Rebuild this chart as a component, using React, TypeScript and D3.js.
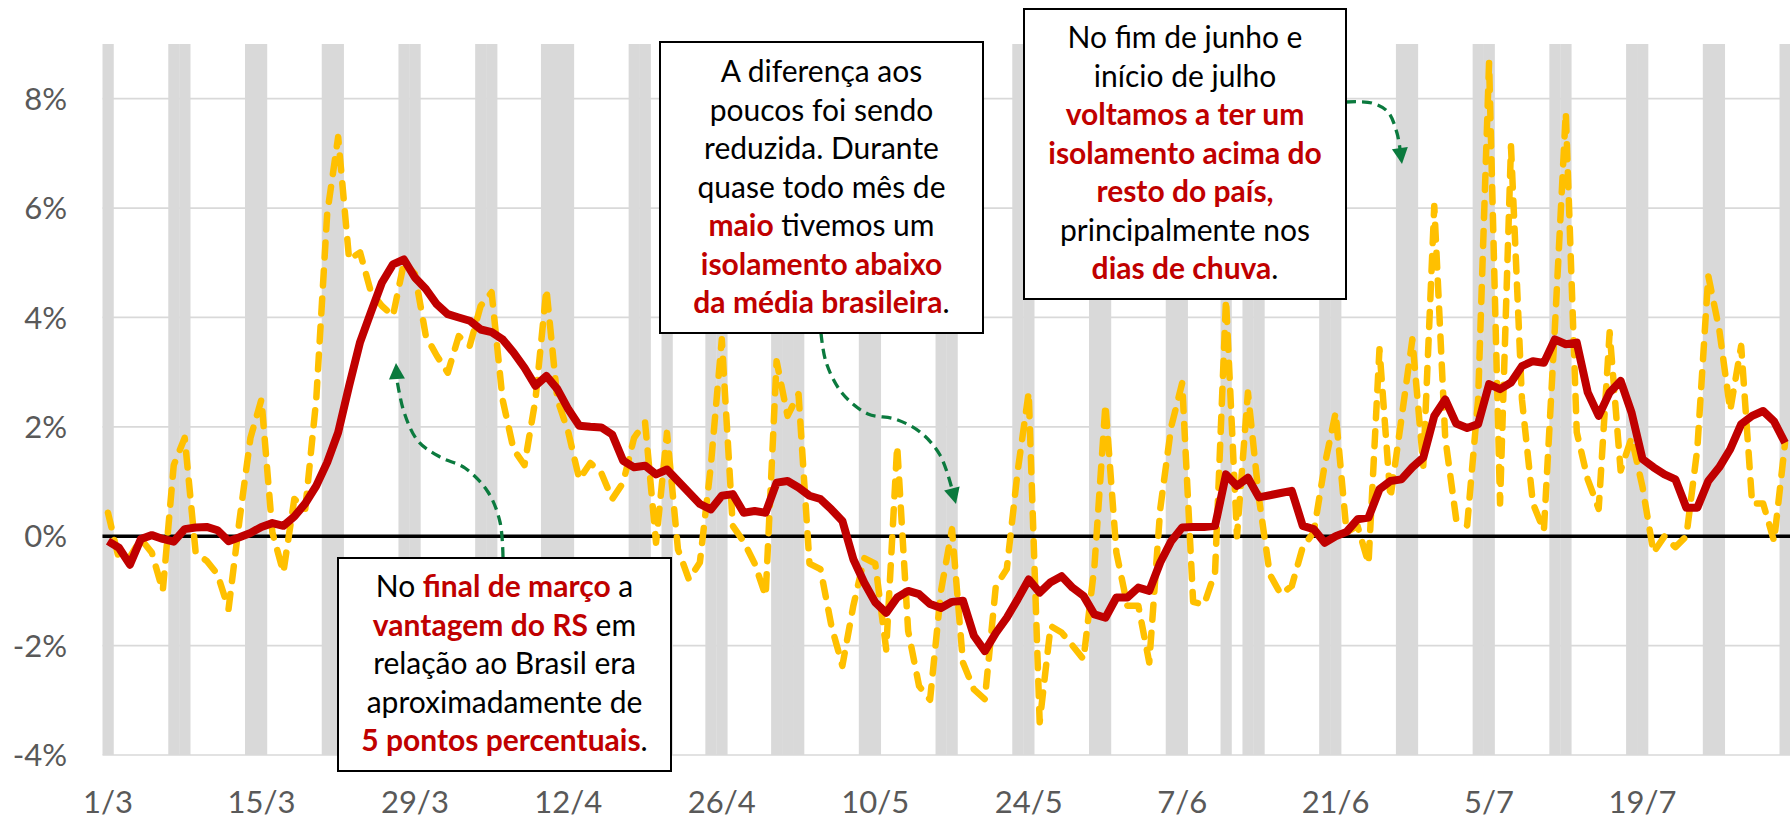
import React from "react";
import * as d3 from "d3";

const W = 1790;
const H = 822;

// categorias: um dia por ponto, de 1/3 a 1/8 de 2020
const dias = d3.timeDay.range(new Date(2020, 2, 1), new Date(2020, 7, 2));
const feriados = ["10/4", "21/4", "1/5", "11/6"];
const yTicks = [-4, -2, 0, 2, 4, 6, 8];

// diferença RS - Brasil (pontos percentuais), média móvel
const mediaMovel = [
  -0.09, -0.21, -0.52, -0.05, 0.02, -0.05, -0.1, 0.13, 0.16, 0.17,
  0.11, -0.09, -0.02, 0.06, 0.17, 0.24, 0.19, 0.36, 0.6, 0.92,
  1.35, 1.9, 2.75, 3.55, 4.1, 4.64, 4.97, 5.06, 4.73, 4.52,
  4.24, 4.06, 4.0, 3.94, 3.78, 3.73, 3.6, 3.36, 3.08, 2.75,
  2.93, 2.69, 2.32, 2.02, 2.0, 1.99, 1.86, 1.38, 1.26, 1.29,
  1.13, 1.22, 1.01, 0.8, 0.59, 0.49, 0.74, 0.77, 0.43, 0.46,
  0.43, 0.98, 1.01, 0.89, 0.74, 0.68, 0.49, 0.28, -0.42, -0.85,
  -1.21, -1.4, -1.12, -1.0, -1.06, -1.24, -1.31, -1.2, -1.18, -1.82,
  -2.1, -1.77, -1.49, -1.15, -0.79, -1.03, -0.84, -0.73, -0.94, -1.09,
  -1.43, -1.49, -1.12, -1.12, -0.94, -1.0, -0.48, -0.09, 0.16, 0.17,
  0.17, 0.19, 1.13, 0.92, 1.07, 0.71, 0.75, 0.79, 0.83, 0.19,
  0.13, -0.12, 0.0, 0.08, 0.31, 0.34, 0.86, 1.01, 1.04, 1.26,
  1.44, 2.2, 2.5, 2.06, 1.98, 2.05, 2.78, 2.69, 2.81, 3.11,
  3.2, 3.17, 3.6, 3.51, 3.54, 2.63, 2.2, 2.63, 2.84, 2.26,
  1.41, 1.26, 1.13, 1.04, 0.52, 0.52, 1.01, 1.26, 1.59, 2.05,
  2.2, 2.29, 2.1, 1.71,
];

// diferença diária
const diferencaDiaria = [
  0.43, -0.42, -0.38, -0.05, -0.3, -1.0, 1.3, 1.8, -0.3, -0.45,
  -0.7, -1.33, 0.3, 1.8, 2.5, 0.07, -0.66, 0.68, 0.5, 2.5,
  5.9, 7.3, 5.06, 5.19, 4.46, 4.21, 4.03, 5.0, 4.8, 3.66,
  3.3, 2.99, 3.66, 3.48, 4.21, 4.46, 2.5, 1.59, 1.3, 2.5,
  4.52, 2.5, 1.9, 1.04, 1.34, 1.16, 0.68, 0.98, 1.8, 2.08,
  -0.12, 1.89, -0.24, -0.79, -0.48, 1.29, 3.6, 0.19, -0.1, -0.5,
  -1.09, 3.2, 2.2, 2.6, -0.5, -0.6, -1.64, -2.37, -1.27, -0.4,
  -0.5, -2.07, 1.65, -1.73, -2.74, -2.99, -1.0, 0.13, -2.31, -2.8,
  -2.98, -0.91, -0.6, 1.2, 2.63, -3.4, -1.64, -1.76, -2.0, -2.25,
  -0.54, 2.41, -0.3, -1.27, -1.27, -2.31, 0.5, 2.0, 2.8, -1.2,
  -1.25, -0.66, 4.33, 0.0, 2.63, 0.7, -0.7, -1.06, -0.91, -0.2,
  0.07, 1.3, 2.26, 0.07, 0.19, -0.5, 3.42, 0.7, 2.14, 3.6,
  1.29, 6.04, 1.8, 0.31, 0.2, 2.5, 8.66, 0.6, 7.13, 2.5,
  0.6, 0.1, 3.8, 7.75, 1.9, 1.04, 0.5, 3.73, 1.2, 1.8,
  0.9, -0.3, 0.0, -0.2, 0.0, 1.6, 4.76, 3.78, 2.3, 3.48,
  0.6, 0.6, -0.09, 1.7,
];

const RED = "#C00000";
const GOLD = "#FFC000";
const GREEN = "#0B7A3E";
const FONT = "Lato, 'Liberation Sans', sans-serif";

type Part = [string, boolean];
const caixas: { x0: number; x1: number; y0: number; y1: number; base: number; linhas: Part[][] }[] = [
  {
    x0: 338, x1: 671, y0: 558, y1: 771, base: 597,
    linhas: [
      [["No ", false], ["final de março", true], [" a", false]],
      [["vantagem do RS", true], [" em", false]],
      [["relação ao Brasil era", false]],
      [["aproximadamente de", false]],
      [["5 pontos percentuais", true], [".", false]],
    ],
  },
  {
    x0: 660, x1: 983, y0: 42, y1: 333, base: 82,
    linhas: [
      [["A diferença aos", false]],
      [["poucos foi sendo", false]],
      [["reduzida. Durante", false]],
      [["quase todo mês de", false]],
      [["maio", true], [" tivemos um", false]],
      [["isolamento abaixo", true]],
      [["da média brasileira", true], [".", false]],
    ],
  },
  {
    x0: 1024, x1: 1346, y0: 9, y1: 299, base: 48,
    linhas: [
      [["No fim de junho e", false]],
      [["início de julho", false]],
      [["voltamos a ter um", true]],
      [["isolamento acima do", true]],
      [["resto do país,", true]],
      [["principalmente nos", false]],
      [["dias de chuva", true], [".", false]],
    ],
  },
];

const setas: [number, number][][] = [
  [[503, 557], [500, 522], [488, 492], [465, 468], [440, 457], [418, 441], [404, 412], [397, 380]],
  [[821, 333], [826, 362], [842, 393], [868, 414], [895, 419], [920, 432], [940, 455], [952, 489]],
  [[1346, 102], [1372, 103], [1388, 112], [1397, 133], [1400, 149]],
];
const pontas: [number, number][] = [[396, 363], [956, 504], [1402, 164]];

const App = () => {
  const idx = dias.map((_, i) => i);
  const x = d3.scaleBand<number>().domain(idx).range([102.5, 1790.5]).padding(0);
  const bw = x.bandwidth();
  const cx = (i: number) => (x(i) as number) + bw / 2;
  const y = d3.scaleLinear().domain([-4, 9]).range([755, 44]);
  const fmt = d3.timeFormat("%-d/%-m");

  const cinza = dias
    .map((d, i) => ({ d, i }))
    .filter(({ d }) => d.getDay() === 0 || d.getDay() === 6 || feriados.includes(fmt(d)));

  const linha = d3.line<number>().x((_, i) => cx(i)).y((v) => y(v));
  const curva = d3.line<[number, number]>().curve(d3.curveCatmullRom.alpha(0.5));

  const ponta = (tip: [number, number], from: [number, number]) => {
    const dx = tip[0] - from[0];
    const dy = tip[1] - from[1];
    const len = Math.hypot(dx, dy);
    const ux = dx / len, uy = dy / len;
    const bx = tip[0] - ux * 16, by = tip[1] - uy * 16;
    return `${tip[0]},${tip[1]} ${bx - uy * 8},${by + ux * 8} ${bx + uy * 8},${by - ux * 8}`;
  };

  return (
    <div style={{ position: "absolute", left: 0, top: 0 }}>
      <svg width={W} height={H} style={{ display: "block", background: "#fff" }}>
        {yTicks.map((t) => (
          <line key={t} x1={102.5} x2={1790} y1={y(t)} y2={y(t)} stroke="#D9D9D9" strokeWidth={1.7} />
        ))}
        {cinza.map(({ i }) => (
          <rect key={i} x={x(i)} y={y(9)} width={bw + 0.3} height={y(-4) - y(9)} fill="#D9D9D9" />
        ))}
        <line x1={102.5} x2={1790} y1={y(0)} y2={y(0)} stroke="#000" strokeWidth={3.5} />
        {yTicks.map((t) => (
          <text key={t} x={67} y={y(t)} dy="0.36em" textAnchor="end" fontFamily={FONT} fontSize={31} fill="#595959">
            {`${t}%`}
          </text>
        ))}
        {idx.filter((i) => i % 14 === 0).map((i) => (
          <text key={i} x={cx(i)} y={813} textAnchor="middle" fontFamily={FONT} fontSize={31} fill="#595959">
            {fmt(dias[i])}
          </text>
        ))}
        <path d={linha(diferencaDiaria) || ""} fill="none" stroke={GOLD} strokeWidth={6.5}
          strokeDasharray="15 13" strokeLinecap="round" strokeLinejoin="round" />
        <path d={linha(mediaMovel) || ""} fill="none" stroke={RED} strokeWidth={8} strokeLinejoin="round" />
        {setas.map((pts, k) => (
          <g key={k}>
            <path d={curva(pts) || ""} fill="none" stroke={GREEN} strokeWidth={3.3} strokeDasharray="10 6" />
            <polygon points={ponta(pontas[k], pts[pts.length - 1])} fill={GREEN} />
          </g>
        ))}
        {caixas.map((c, k) => (
          <g key={k}>
            <rect x={c.x0} y={c.y0} width={c.x1 - c.x0} height={c.y1 - c.y0} fill="#fff" stroke="#000" strokeWidth={2} />
            {c.linhas.map((ln, j) => (
              <text key={j} x={(c.x0 + c.x1) / 2} y={c.base + j * 38.5} textAnchor="middle"
                fontFamily={FONT} fontSize={30} fill="#000">
                {ln.map(([s, b], m) => (
                  <tspan key={m} fill={b ? RED : "#000"} fontWeight={b ? 700 : 400}>{s}</tspan>
                ))}
              </text>
            ))}
          </g>
        ))}
      </svg>
    </div>
  );
};

export default App;
